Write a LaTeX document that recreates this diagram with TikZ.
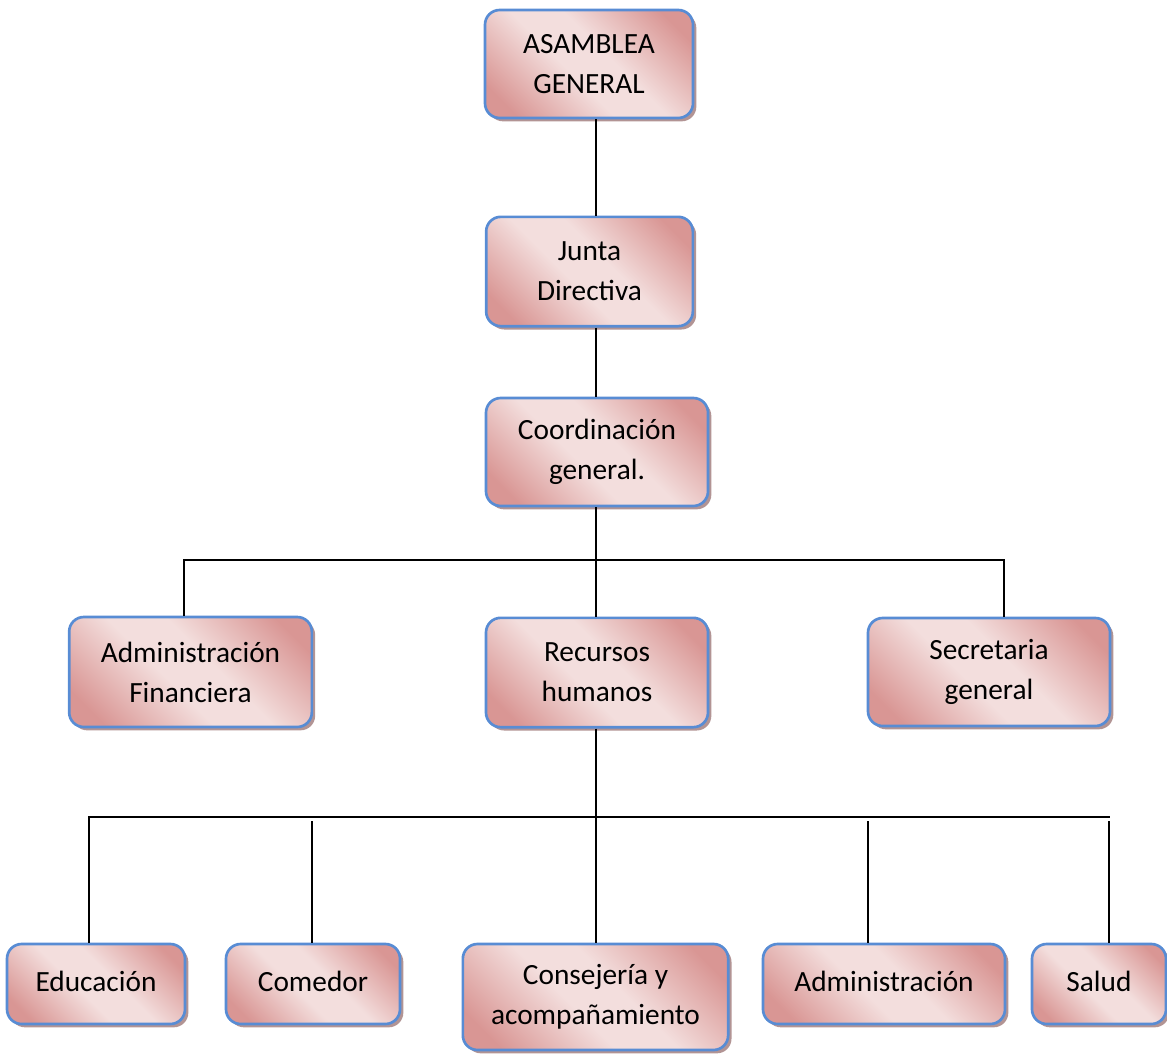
\documentclass[tikz,border=0pt]{standalone}
\usepackage{fontspec}
\setmainfont{Carlito}
\usetikzlibrary{shadows}
\definecolor{boxdark}{RGB}{217,150,148}
\definecolor{boxlight}{RGB}{243,222,221}
\definecolor{boxline}{RGB}{88,140,212}
\definecolor{boxshadow}{RGB}{178,148,148}
\pgfdeclareverticalshading{boxfill}{100bp}{color(0bp)=(boxdark); color(22bp)=(boxdark); color(44bp)=(boxlight); color(56bp)=(boxlight); color(78bp)=(boxdark); color(100bp)=(boxdark)}
\begin{document}
\begin{tikzpicture}[x=0.75pt,y=-0.75pt]
        \tikzset{n/.style={draw=boxline, line width=2pt, rounded corners=11pt, shade, shading=boxfill, shading angle=-45, inner sep=0pt, align=center, font=\fontsize{22}{30}\selectfont, drop shadow={shadow xshift=2.5pt, shadow yshift=-2.5pt, fill=boxshadow, opacity=1}},
                 c/.style={line width=2pt}}
        \useasboundingbox (0,0) rectangle (1167,1053);

        \draw node[n, minimum width=156pt, minimum height=81pt] (asam) at (589,64) {ASAMBLEA\\GENERAL};
        \draw node[n, minimum width=155pt, minimum height=82pt] (junta) at (589.5,271.5) {Junta\\Directiva};
        \draw node[n, minimum width=166.5pt, minimum height=81pt] (coord) at (597,452) {Coordinación\\general.};

        \draw node[n, minimum width=182pt, minimum height=82.5pt] (adfin) at (190.5,672) {Administración\\Financiera};
        \draw node[n, minimum width=166.5pt, minimum height=82pt] (rrhh) at (597,672.5) {Recursos\\humanos};
        \draw node[n, minimum width=181.5pt, minimum height=81pt] (secre) at (989,672) {Secretaria\\general};

        \draw node[n, minimum width=133.5pt, minimum height=60pt] (edu) at (96,984) {\raisebox{4pt}{Educación}};
        \draw node[n, minimum width=130.5pt, minimum height=60pt] (com) at (313,984) {\raisebox{4pt}{Comedor}};
        \draw node[n, minimum width=199pt, minimum height=79.5pt] (cons) at (595.5,997) {Consejería y\\acompañamiento};
        \draw node[n, minimum width=181.5pt, minimum height=60pt] (admin) at (884,984) {\raisebox{4pt}{Administración}};
        \draw node[n, minimum width=100.5pt, minimum height=60pt] (salud) at (1099,984) {\raisebox{4pt}{Salud}};

        \coordinate (hub) at (596,560);
        \coordinate (hubL) at (184,560);
        \coordinate (hubR) at (1004,560);
        \coordinate (busL) at (89,817);
        \coordinate (busR) at (1110,817);
        \coordinate (tc) at (312,821);
        \coordinate (ta) at (868,821);
        \coordinate (ts) at (1109,821);

        \draw[c] (asam.south -| hub) -- (junta.north -| hub);
        \draw[c] (junta.south -| hub) -- (coord.north -| hub);
        \draw[c] (coord.south -| hub) -- (rrhh.north -| hub);
        \draw[c] (adfin.north -| hubL) -- (hubL) -- (hubR) -- (secre.north -| hubR);
        \draw[c] (rrhh.south -| hub) -- (cons.north -| hub);
        \draw[c] (edu.north -| busL) -- (busL) -- (busR);
        \draw[c] (com.north -| tc) -- (tc);
        \draw[c] (admin.north -| ta) -- (ta);
        \draw[c] (salud.north -| ts) -- (ts);
    \end{tikzpicture}
\end{document}
